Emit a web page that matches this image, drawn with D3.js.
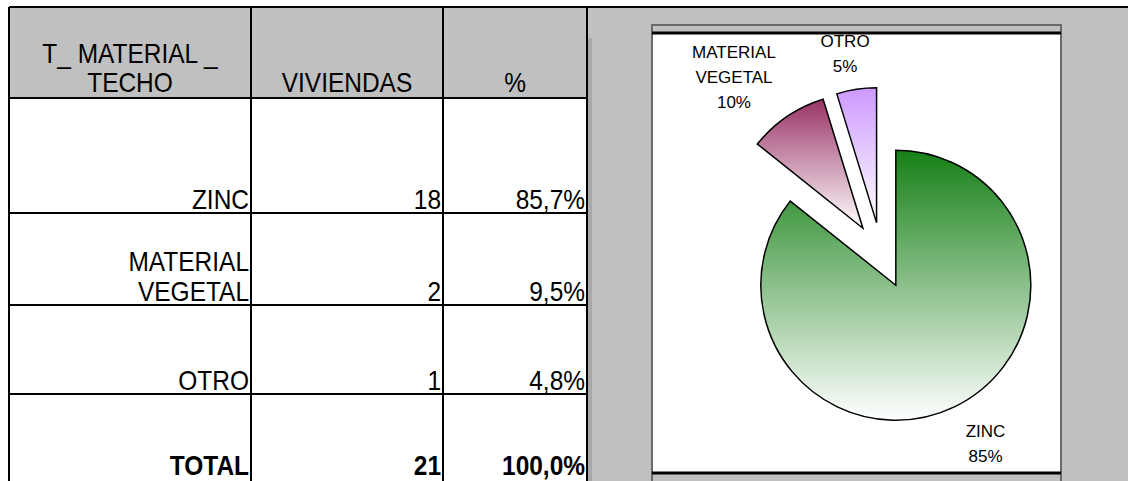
<!DOCTYPE html>
<html>
<head>
<meta charset="utf-8">
<script src="https://cdn.jsdelivr.net/npm/d3@7"></script>
<style>
  body { margin: 0; background: #fff; }
  text { font-family: "Liberation Sans", Arial, sans-serif; fill: #000; }
</style>
</head>
<body>
<div id="canvas"></div>
<script>
const width = 1128;
const height = 481;

// table data
const headers = [["T_ MATERIAL _", "TECHO"], ["VIVIENDAS"], ["%"]];
const categories = [["ZINC"], ["MATERIAL", "VEGETAL"], ["OTRO"]];
const viviendas = [18, 2, 1];
const pctText = ["85,7%", "9,5%", "4,8%"];
const totalRow = ["TOTAL", "21", "100,0%"];

// pie data
const pieNames = [["ZINC"], ["MATERIAL", "VEGETAL"], ["OTRO"]];
const pieLabels = ["85%", "10%", "5%"];
const pieColors = ["#168016", "#993366", "#cc99ff"];

const svg = d3.select("#canvas")
    .append("svg")
    .attr("width", width)
    .attr("height", height);

const gray = "#c0c0c0";

// table layout
const colEdges = [9, 251, 443, 587];
const rowEdges = [7, 98, 213, 305, 394, 479];
const fs = 27.5, sx = 0.89;

// condensed text like the sheet rendering
function cellText(x, y, str, anchor, bold) {
    svg.append("g")
        .attr("transform", `translate(${x},${y}) scale(${sx},1)`)
        .append("text")
        .attr("text-anchor", anchor)
        .attr("font-size", fs)
        .attr("font-weight", bold ? "bold" : null)
        .text(str);
}

svg.append("rect").attr("width", width).attr("height", height).attr("fill", "#fff");
svg.append("rect").attr("x", 587).attr("y", 7).attr("width", width - 587).attr("height", height - 7).attr("fill", gray);
svg.append("rect").attr("x", colEdges[0]).attr("y", rowEdges[0])
    .attr("width", colEdges[3] - colEdges[0]).attr("height", rowEdges[1] - rowEdges[0]).attr("fill", gray);

// header text, centered, bottom aligned
headers.forEach((lines, i) => {
    const cx = (colEdges[i] + colEdges[i + 1]) / 2;
    lines.forEach((t, j) => {
        cellText(cx, rowEdges[1] - 6 - (lines.length - 1 - j) * 29, t, "middle", false);
    });
});

// body rows, right aligned, bottom aligned
const rows = categories.map((c, i) => [c, [String(viviendas[i])], [pctText[i]]]);
rows.push([[totalRow[0]], [totalRow[1]], [totalRow[2]]]);

rows.forEach((row, r) => {
    const bottom = rowEdges[r + 2];
    row.forEach((lines, c) => {
        lines.forEach((t, j) => {
            cellText(colEdges[c + 1] - 2, bottom - 4 - (lines.length - 1 - j) * 30, t, "end", r === 3);
        });
    });
});

// grid lines
svg.append("line").attr("x1", colEdges[0]).attr("x2", width)
    .attr("y1", 7).attr("y2", 7).attr("stroke", "#000").attr("stroke-width", 2);
rowEdges.slice(1, 5).forEach(y => {
    svg.append("line").attr("x1", colEdges[0]).attr("x2", colEdges[3])
        .attr("y1", y).attr("y2", y).attr("stroke", "#000").attr("stroke-width", 2);
});
colEdges.forEach(x => {
    svg.append("line").attr("x1", x).attr("x2", x)
        .attr("y1", 7).attr("y2", height).attr("stroke", "#000").attr("stroke-width", 2);
});
svg.append("rect").attr("x", 588).attr("y", 38).attr("width", 4).attr("height", height - 38).attr("fill", "#a8a8a8");

// chart box
const box = {x0: 652, x1: 1061, y0: 25, top: 33, bottom: 473};
svg.append("rect").attr("x", box.x0).attr("y", box.y0)
    .attr("width", box.x1 - box.x0).attr("height", height - box.y0 + 5)
    .attr("fill", "#fff").attr("stroke", "#6a6a6a").attr("stroke-width", 2);
svg.append("rect").attr("x", box.x0 + 1).attr("y", box.y0 + 1)
    .attr("width", box.x1 - box.x0 - 2).attr("height", box.top - box.y0 - 1).attr("fill", gray);
svg.append("rect").attr("x", box.x0 + 1).attr("y", box.bottom)
    .attr("width", box.x1 - box.x0 - 2).attr("height", height - box.bottom).attr("fill", gray);
[box.top, box.bottom].forEach(y => {
    svg.append("line").attr("x1", box.x0).attr("x2", box.x1)
        .attr("y1", y).attr("y2", y).attr("stroke", "#000").attr("stroke-width", 3);
});

// pie
const cx = 881.5, cy = 255.5;
const radius = 135, explode = 33;

const defs = svg.append("defs");
pieColors.forEach((c, i) => {
    const g = defs.append("linearGradient").attr("id", "grad" + i)
        .attr("x1", 0).attr("y1", 0).attr("x2", 0).attr("y2", 1);
    g.append("stop").attr("offset", "0%").attr("stop-color", c);
    g.append("stop").attr("offset", "100%").attr("stop-color", "#fff");
});

const pie = d3.pie().sort(null).value(d => d);
const arcs = pie(viviendas);
const arc = d3.arc().innerRadius(0).outerRadius(radius);

const slices = svg.append("g").attr("transform", `translate(${cx},${cy})`);
slices.selectAll("path")
    .data(arcs)
    .join("path")
    .attr("transform", d => {
        const a = (d.startAngle + d.endAngle) / 2;
        return `translate(${explode * Math.sin(a)},${-explode * Math.cos(a)})`;
    })
    .attr("d", arc)
    .attr("fill", (d, i) => `url(#grad${i})`)
    .attr("stroke", "#000")
    .attr("stroke-width", 1.5);

// labels outside the slices
const rx = 220, ry = 181, lfs = 17, llh = 25;
arcs.forEach((d, i) => {
    const a = (d.startAngle + d.endAngle) / 2;
    const lines = pieNames[i].concat([pieLabels[i]]);
    const g = slices.append("g");
    const texts = lines.map((t, j) => g.append("text")
        .attr("text-anchor", "middle")
        .attr("font-size", lfs)
        .attr("y", (j - (lines.length - 1) / 2) * llh + 6)
        .text(t));
    const w = d3.max(texts, t => t.node().getComputedTextLength()) / 2;
    const h = lines.length * llh / 2;
    g.attr("transform", `translate(${Math.sin(a) * (rx + w)},${-Math.cos(a) * (ry + h) + 2})`);
});
</script>
</body>
</html>
